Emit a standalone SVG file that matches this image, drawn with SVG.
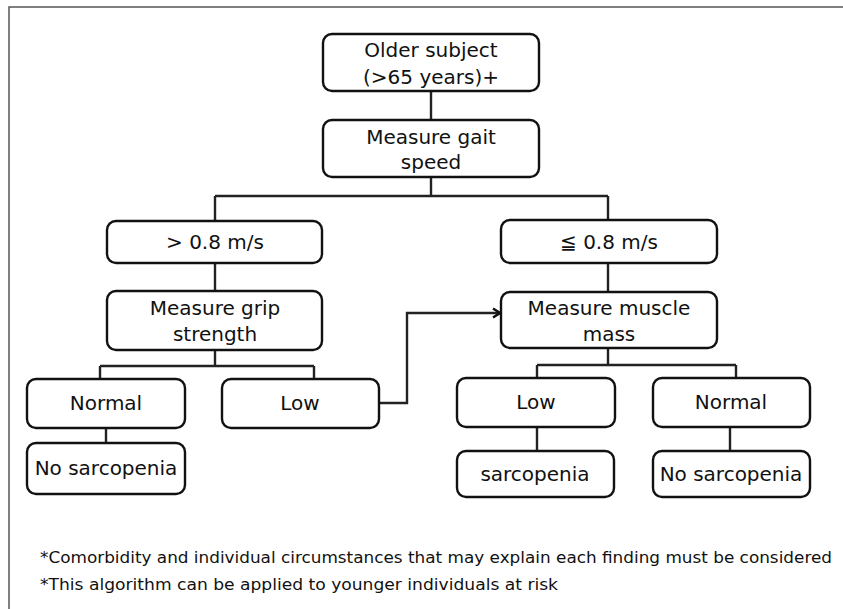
<svg xmlns="http://www.w3.org/2000/svg" width="843" height="609" viewBox="0 0 843 609">
<style>
.box{fill:#fff;stroke:#111;stroke-width:2.4}
.t{font-family:"DejaVu Sans","Noto Sans CJK JP",sans-serif;font-size:20px;fill:#111;text-anchor:middle}
.fn{font-family:"DejaVu Sans","Noto Sans CJK JP",sans-serif;font-size:16px;fill:#111}
.c{fill:none;stroke:#222;stroke-width:2.4}
.frame{fill:none;stroke:#555;stroke-width:1.5}
</style>
<defs>
<marker id="ah" markerWidth="12" markerHeight="12" refX="9" refY="6" orient="auto" markerUnits="userSpaceOnUse">
<path d="M2,1.5 L9,6 L2,10.5" fill="none" stroke="#111" stroke-width="2.6"/>
</marker>
</defs>
<path class="frame" d="M843,7 H9 V609"/>
<g id="connectors">
<path class="c" d="M431,91 V120"/>
<path class="c" d="M431,177 V196 M215,196 H608 M215,196 V221 M608,196 V220"/>
<path class="c" d="M215,263 V291"/>
<path class="c" d="M608,263 V292"/>
<path class="c" d="M215,350 V366 M100,366 H314 M100,366 V379 M314,366 V379"/>
<path class="c" d="M106,428 V443"/>
<path class="c" d="M608,348 V365 M537,365 H736 M537,365 V378 M736,365 V378"/>
<path class="c" d="M537,427 V451"/>
<path class="c" d="M730,427 V451"/>
<path class="c" d="M379,403 H407 V313 H500" marker-end="url(#ah)"/>
</g>
<g id="n-older"><rect class="box" x="323" y="34" width="216" height="57" rx="9"/><text class="t" x="431" y="57">Older subject</text><text class="t" x="431" y="84">(&gt;65 years)+</text></g>
<g id="n-gait"><rect class="box" x="323" y="120" width="216" height="57" rx="9"/><text class="t" x="431" y="144">Measure gait</text><text class="t" x="431" y="169">speed</text></g>
<g id="n-fast"><rect class="box" x="107" y="221" width="215" height="42" rx="9"/><text class="t" x="215" y="249">&gt; 0.8 m/s</text></g>
<g id="n-slow"><rect class="box" x="501" y="220" width="216" height="43" rx="9"/><text class="t" x="609" y="249">≦ 0.8 m/s</text></g>
<g id="n-grip"><rect class="box" x="107" y="291" width="215" height="59" rx="9"/><text class="t" x="215" y="315">Measure grip</text><text class="t" x="215" y="341">strength</text></g>
<g id="n-muscle"><rect class="box" x="501" y="292" width="216" height="56" rx="9"/><text class="t" x="609" y="315">Measure muscle</text><text class="t" x="609" y="341">mass</text></g>
<g id="n-normal-l"><rect class="box" x="27" y="379" width="158" height="49" rx="9"/><text class="t" x="106" y="410">Normal</text></g>
<g id="n-low-l"><rect class="box" x="222" y="379" width="157" height="49" rx="9"/><text class="t" x="300" y="410">Low</text></g>
<g id="n-nosarc-l"><rect class="box" x="27" y="443" width="158" height="51" rx="9"/><text class="t" x="106" y="475">No sarcopenia</text></g>
<g id="n-low-r"><rect class="box" x="457" y="378" width="158" height="49" rx="9"/><text class="t" x="536" y="409">Low</text></g>
<g id="n-normal-r"><rect class="box" x="653" y="378" width="157" height="49" rx="9"/><text class="t" x="731" y="409">Normal</text></g>
<g id="n-sarc-r"><rect class="box" x="457" y="451" width="157" height="46" rx="9"/><text class="t" x="535" y="481">sarcopenia</text></g>
<g id="n-nosarc-r"><rect class="box" x="653" y="451" width="157" height="46" rx="9"/><text class="t" x="731" y="481">No sarcopenia</text></g>
<g id="footnotes">
<text class="fn" x="40" y="563" textLength="792" lengthAdjust="spacingAndGlyphs">*Comorbidity and individual circumstances that may explain each finding must be considered</text>
<text class="fn" x="40" y="590" textLength="518" lengthAdjust="spacingAndGlyphs">*This algorithm can be applied to younger individuals at risk</text>
</g>
</svg>
